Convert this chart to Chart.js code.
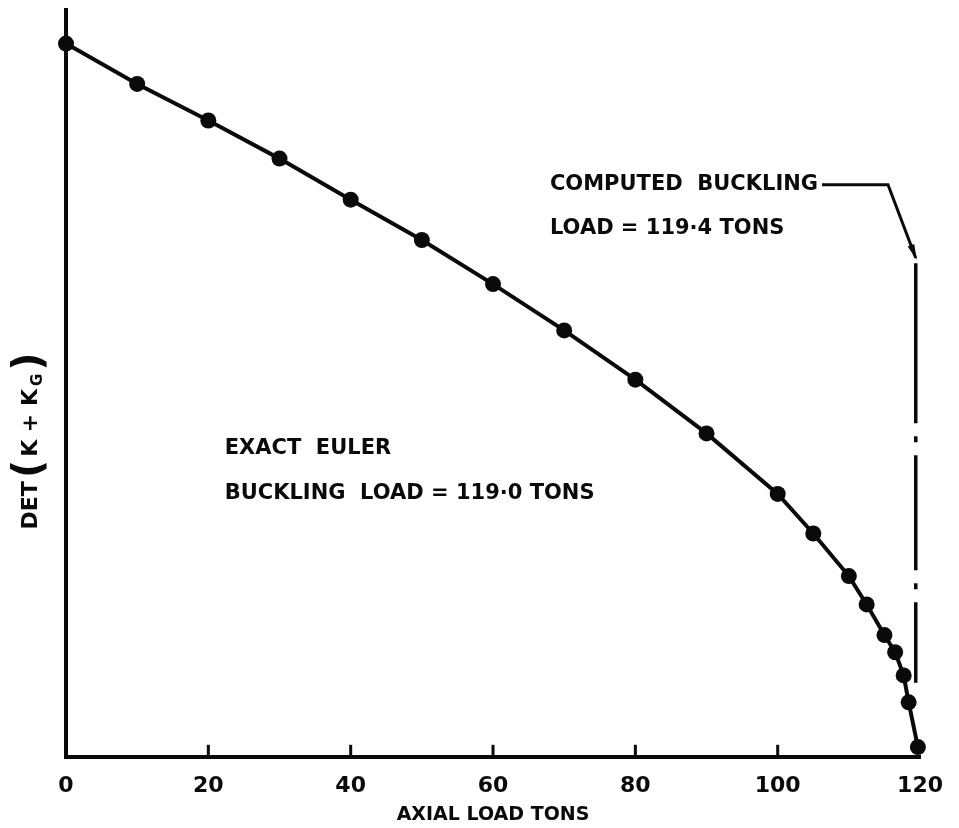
<!DOCTYPE html>
<html>
<head>
<meta charset="utf-8">
<script src="https://cdn.jsdelivr.net/npm/chart.js@4.4.0/dist/chart.umd.min.js"></script>
<style>
  html, body { margin: 0; padding: 0; background: #fff; }
  #wrap { width: 959px; height: 828px; }
</style>
</head>
<body>
<div id="wrap"><canvas id="chart-buckling" width="959" height="828"></canvas></div>
<script>
// 軸荷重 (tons)
const axialLoad = [0, 10, 20, 30, 40, 50, 60, 70, 80, 90, 100, 105, 110, 112.5, 115, 116.5, 117.7, 118.4, 119.7];
// det(K + KG) の相対値（目盛なし）
const detValues = [95.5, 90.1, 85.2, 80.1, 74.6, 69.2, 63.3, 57.1, 50.5, 43.3, 35.2, 29.9, 24.2, 20.4, 16.3, 14.0, 10.9, 7.3, 1.3];
const xTicks = [0, 20, 40, 60, 80, 100, 120];
const computedLoad = 119.4;
const noteComputed = ["COMPUTED  BUCKLING", "LOAD = 119·4 TONS"];
const noteEuler = ["EXACT  EULER", "BUCKLING  LOAD = 119·0 TONS"];

const FONT = "'DejaVu Sans', sans-serif";
const INK = "#0a0a0a";

// 軸の内向き目盛・注記・破線などを描く
const overlay = {
  id: "overlay",
  afterDraw(chart) {
    const { ctx, chartArea, scales } = chart;
    const x = scales.x, y = scales.y;
    ctx.save();
    ctx.strokeStyle = INK;
    ctx.fillStyle = INK;

    // 1. 内向きの目盛
    ctx.lineWidth = 3;
    xTicks.slice(1, -1).forEach(v => {
      const px = x.getPixelForValue(v);
      ctx.beginPath();
      ctx.moveTo(px, chartArea.bottom);
      ctx.lineTo(px, chartArea.bottom - 12);
      ctx.stroke();
    });

    // 2. 計算座屈荷重の一点鎖線
    const bx = x.getPixelForValue(computedLoad);
    ctx.lineWidth = 3.5;
    ctx.lineCap = "butt";
    ctx.setLineDash([160, 13, 6, 13, 115, 13, 6, 13, 200]);
    ctx.beginPath();
    ctx.moveTo(bx, y.getPixelForValue(66.1));
    ctx.lineTo(bx, y.getPixelForValue(9.9));
    ctx.stroke();
    ctx.setLineDash([]);

    // 3. 注記テキスト
    ctx.font = "bold 21px " + FONT;
    ctx.textBaseline = "middle";
    ctx.textAlign = "left";
    const cx = x.getPixelForValue(68);
    ctx.fillText(noteComputed[0], cx, y.getPixelForValue(76.6));
    ctx.fillText(noteComputed[1], cx, y.getPixelForValue(70.8));
    const ex = x.getPixelForValue(22.3);
    ctx.fillText(noteEuler[0], ex, y.getPixelForValue(41.3));
    ctx.fillText(noteEuler[1], ex, y.getPixelForValue(35.3));

    // 4. 引出線と矢印
    const w = ctx.measureText(noteComputed[0]).width;
    const ly = y.getPixelForValue(76.6);
    const kx = x.getPixelForValue(115.5);
    const ty = y.getPixelForValue(66.8);
    ctx.lineWidth = 3;
    ctx.beginPath();
    ctx.moveTo(cx + w + 4, ly);
    ctx.lineTo(kx, ly);
    ctx.lineTo(bx, ty);
    ctx.stroke();
    const ang = Math.atan2(ty - ly, bx - kx);
    ctx.beginPath();
    ctx.moveTo(bx + 1, ty + 2);
    ctx.lineTo(bx - 14 * Math.cos(ang - 0.25), ty - 14 * Math.sin(ang - 0.25));
    ctx.lineTo(bx - 14 * Math.cos(ang + 0.25), ty - 14 * Math.sin(ang + 0.25));
    ctx.closePath();
    ctx.fill();

    // 5. 縦軸タイトル DET(K + KG)
    const parts = [
      { t: "DET", size: 22, dy: 0 },
      { t: "(", size: 40, dy: 0 },
      { t: "K + K", size: 22, dy: 0 },
      { t: "G", size: 15, dy: 7 },
      { t: ")", size: 40, dy: 0 },
    ];
    let total = 0;
    parts.forEach(p => {
      ctx.font = "bold " + p.size + "px " + FONT;
      p.w = ctx.measureText(p.t).width + 3;
      total += p.w;
    });
    ctx.translate(31, y.getPixelForValue(42.5));
    ctx.rotate(-Math.PI / 2);
    let pos = -total / 2;
    parts.forEach(p => {
      ctx.font = "bold " + p.size + "px " + FONT;
      ctx.fillText(p.t, pos, p.dy);
      pos += p.w;
    });
    ctx.restore();
  },
};

const ctxBuckling = document.getElementById("chart-buckling");
new Chart(ctxBuckling, {
  type: "line",
  data: {
    datasets: [
      {
        data: axialLoad.map((v, i) => ({ x: v, y: detValues[i] })),
        borderColor: INK,
        borderWidth: 4,
        pointRadius: 8,
        pointBackgroundColor: INK,
        pointBorderColor: INK,
        pointBorderWidth: 0,
        tension: 0,
        clip: false,
      },
    ],
  },
  options: {
    responsive: false,
    animation: false,
    layout: { padding: { left: 66, right: 12, top: 10, bottom: 2 } },
    plugins: { legend: { display: false }, tooltip: { enabled: false } },
    scales: {
      x: {
        type: "linear",
        min: 0,
        max: 120,
        afterBuildTicks: (axis) => { axis.ticks = xTicks.map(v => ({ value: v })); },
        grid: { display: false, drawTicks: false },
        border: { display: true, color: INK, width: 4 },
        ticks: {
          color: INK,
          padding: 16,
          maxRotation: 0,
          autoSkip: false,
          font: { family: FONT, size: 22, weight: "bold" },
        },
        title: {
          display: true,
          text: "AXIAL LOAD TONS",
          color: INK,
          padding: { top: -12, bottom: 0 },
          font: { family: FONT, size: 19, weight: "bold" },
        },
      },
      y: {
        min: 0,
        max: 100,
        grid: { display: false, drawTicks: false },
        border: { display: true, color: INK, width: 4 },
        ticks: { display: false },
      },
    },
  },
  plugins: [overlay],
});
</script>
</body>
</html>
